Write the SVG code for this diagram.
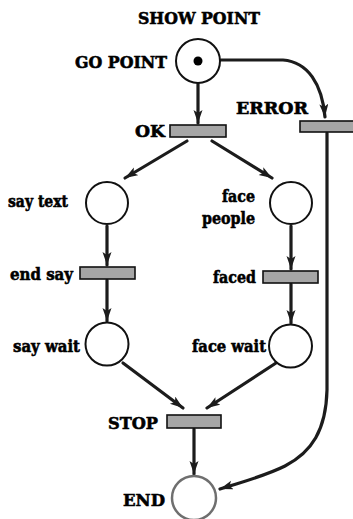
<svg xmlns="http://www.w3.org/2000/svg" width="353" height="519" viewBox="0 0 353 519">
  <style>
    .lbl { font-family: 'DejaVu Serif', 'Liberation Serif', serif; font-weight: bold; font-size: 17px; fill: #000; stroke: #000; stroke-width: 0.6; }
    .place { fill: #fff; stroke: #111; stroke-width: 2; }
    .trans { fill: #a6a6a6; stroke: #111; stroke-width: 1.6; }
    .arc { fill: none; stroke: #1c1c1c; stroke-width: 3.2; stroke-linecap: round; }
    .arrow { marker-end: url(#head); }
  </style>
  <defs>
    <marker id="head" markerUnits="userSpaceOnUse" markerWidth="15" markerHeight="10" refX="13" refY="4.5" orient="auto">
      <path d="M0,0 L13,4.5 L0,9 L3,4.5 z" fill="#1c1c1c"/>
    </marker>
  </defs>
  <rect width="353" height="519" fill="#fff"/>

  <!-- connectors -->
  <g id="arcs">
    <path class="arc arrow" d="M198,84 L198,123"/>
    <path class="arc arrow" d="M187,141 L125,178"/>
    <path class="arc arrow" d="M212,141 L272,178"/>
    <path class="arc arrow" d="M107,226 L107,265"/>
    <path class="arc arrow" d="M107,280 L107,321"/>
    <path class="arc arrow" d="M291,226 L291,269"/>
    <path class="arc arrow" d="M291,284 L291,323"/>
    <path class="arc arrow" d="M123,363 L183,408"/>
    <path class="arc arrow" d="M276,363 L207,408"/>
    <path class="arc arrow" d="M194,429 L194,474"/>
    <path class="arc arrow" d="M221,60 L283,60 C308,62 322,84 325,117"/>
    <path class="arc arrow" d="M327,133 L327,390 C326,430 312,452 285,466 C265,476 245,481 220,489"/>
  </g>

  <g id="show-point">
    <text class="lbl" x="138" y="24" textLength="122" lengthAdjust="spacingAndGlyphs">SHOW POINT</text>
  </g>

  <g id="go-point">
    <circle class="place" cx="198" cy="61" r="22"/>
    <circle cx="198" cy="61" r="4.5" fill="#000"/>
    <text class="lbl" x="75" y="68" textLength="92" lengthAdjust="spacingAndGlyphs">GO POINT</text>
  </g>

  <g id="ok">
    <rect class="trans" x="170" y="125" width="56" height="12"/>
    <text class="lbl" x="135" y="137" textLength="30" lengthAdjust="spacingAndGlyphs">OK</text>
  </g>

  <g id="error">
    <rect class="trans" x="300" y="121" width="56" height="11"/>
    <text class="lbl" x="236" y="114" textLength="72" lengthAdjust="spacingAndGlyphs">ERROR</text>
  </g>

  <g id="say-text">
    <circle class="place" cx="107" cy="203" r="21"/>
    <text class="lbl" x="8" y="207" textLength="60" lengthAdjust="spacingAndGlyphs">say text</text>
  </g>

  <g id="face-people">
    <circle class="place" cx="291" cy="203" r="21"/>
    <text class="lbl" x="222" y="202" textLength="33" lengthAdjust="spacingAndGlyphs">face</text>
    <text class="lbl" x="202" y="224" textLength="53" lengthAdjust="spacingAndGlyphs">people</text>
  </g>

  <g id="end-say">
    <rect class="trans" x="80" y="267" width="55" height="12"/>
    <text class="lbl" x="10" y="280" textLength="63" lengthAdjust="spacingAndGlyphs">end say</text>
  </g>

  <g id="faced">
    <rect class="trans" x="263" y="271" width="55" height="12"/>
    <text class="lbl" x="213" y="283" textLength="43" lengthAdjust="spacingAndGlyphs">faced</text>
  </g>

  <g id="say-wait">
    <circle class="place" cx="107" cy="344" r="21.5"/>
    <text class="lbl" x="13" y="352" textLength="67" lengthAdjust="spacingAndGlyphs">say wait</text>
  </g>

  <g id="face-wait">
    <circle class="place" cx="290.5" cy="346" r="21.5"/>
    <text class="lbl" x="192" y="352" textLength="74" lengthAdjust="spacingAndGlyphs">face wait</text>
  </g>

  <g id="stop">
    <rect class="trans" x="167" y="415" width="54" height="13"/>
    <text class="lbl" x="108" y="429" textLength="50" lengthAdjust="spacingAndGlyphs">STOP</text>
  </g>

  <g id="end">
    <circle cx="194" cy="498" r="22" fill="#fff" stroke="#6f6f6f" stroke-width="2.5"/>
    <text class="lbl" x="123" y="506" textLength="42" lengthAdjust="spacingAndGlyphs">END</text>
  </g>
</svg>
